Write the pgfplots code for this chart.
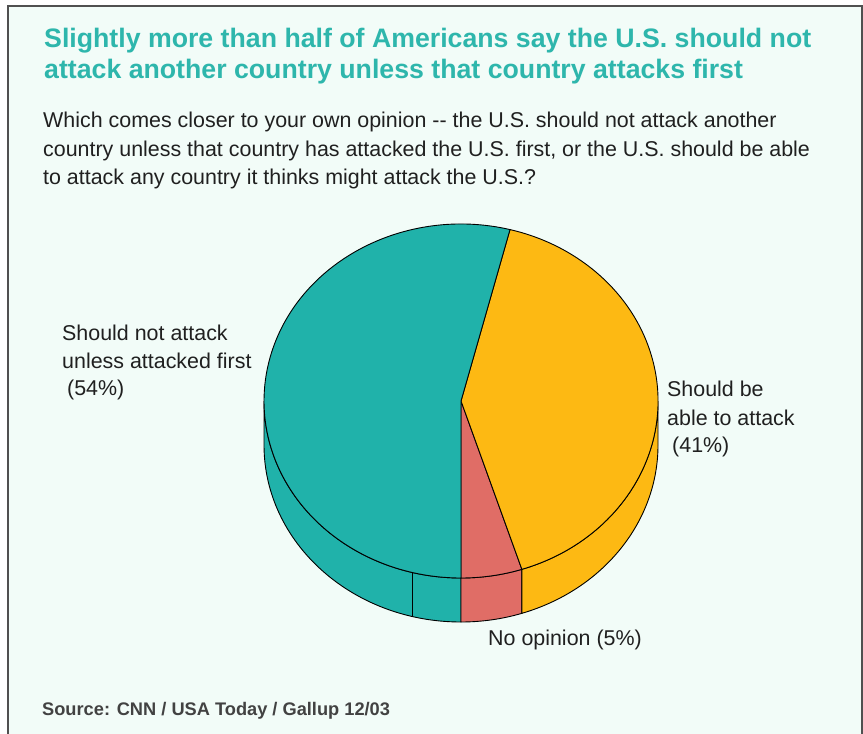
\documentclass[border=0pt]{standalone}
\usepackage{fontspec}
\setmainfont{Liberation Sans}
\newfontfamily\titlefont{Liberation Sans Bold}
\usepackage{pgfplots}
\usepackage{pgfplotstable}
\pgfplotsset{compat=1.18}

\definecolor{bg}{HTML}{F2FCF8}
\definecolor{frame}{HTML}{505050}
\definecolor{ttl}{HTML}{2EB6AC}
\definecolor{txt}{HTML}{202020}
\definecolor{teal}{HTML}{20B2AA}
\definecolor{gold}{HTML}{FDB913}
\definecolor{salmon}{HTML}{E06D66}

% slices counter-clockwise from the bottom
\pgfplotstableread{
label value
noopinion 5
able 41
notattack 54
}\piedata

\pgfplotstablegetelem{0}{value}\of\piedata \pgfmathsetmacro\vA{\pgfplotsretval}
\pgfplotstablegetelem{1}{value}\of\piedata \pgfmathsetmacro\vB{\pgfplotsretval}
\pgfplotstablegetelem{2}{value}\of\piedata \pgfmathsetmacro\vC{\pgfplotsretval}
\pgfmathsetmacro\aA{-90}
\pgfmathsetmacro\aB{\aA+3.6*\vA}
\pgfmathsetmacro\aC{\aB+3.6*\vB}
\pgfmathsetmacro\aD{\aC+3.6*\vC}
\pgfmathsetmacro\aBs{\aB+360}

% radii and depth of the pie (1 unit = 1 px of the reference)
\def\rx{197bp}
\def\ry{177bp}
\def\dep{44bp}

\newcommand\pieside[3]{%
  \filldraw[fill=#3, draw=black, line width=0.9bp]
    (axis cs:461,401) ++(#1:\rx\space and \ry)
    arc[start angle=#1, end angle=#2, x radius=\rx, y radius=\ry]
    -- ++(0,-\dep)
    arc[start angle=#2, end angle=#1, x radius=\rx, y radius=\ry] -- cycle;}
\newcommand\pietop[3]{%
  \filldraw[fill=#3, draw=black, line width=0.9bp]
    (axis cs:461,401) -- ++(#1:\rx\space and \ry)
    arc[start angle=#1, end angle=#2, x radius=\rx, y radius=\ry] -- cycle;}

\begin{document}
\begin{tikzpicture}
\begin{axis}[
    width=863bp, height=734bp,
    scale only axis,
    xmin=0, xmax=863, ymin=0, ymax=734,
    y dir=reverse,
    enlargelimits=false,
    hide axis,
    clip=false,
]
\coordinate (bl) at (axis cs:0,734);
\coordinate (tr) at (axis cs:863,0);
% canvas and frame
\fill[white] (axis cs:0,0) rectangle (axis cs:863,734);
\fill[bg] (axis cs:8,6) rectangle (axis cs:862,734);
\draw[frame, line width=2bp] (axis cs:8,734) -- (axis cs:8,6) -- (axis cs:862,6) -- (axis cs:862,734);

% side of the pie (front half)
\pieside{180}{270}{teal}
\pieside{270}{\aBs}{salmon}
\pieside{\aBs}{360}{gold}
\draw[black, line width=0.9bp] (axis cs:461,401) ++(255.6:\rx\space and \ry) -- ++(0,-\dep);

% top of the pie
\pietop{\aA}{\aB}{salmon}
\pietop{\aB}{\aC}{gold}
\pietop{\aC}{\aD}{teal}

% title
\node[anchor=base west, inner sep=0, text=ttl, font=\titlefont\fontsize{26.8}{30}\selectfont]
  at (axis cs:44,48) {Slightly more than half of Americans say the U.S. should not};
\node[anchor=base west, inner sep=0, text=ttl, font=\titlefont\fontsize{26.8}{30}\selectfont]
  at (axis cs:44,79) {attack another country unless that country attacks first};

% question
\node[anchor=base west, inner sep=0, text=txt, font=\fontsize{21.5}{24}\selectfont]
  at (axis cs:43,128) {Which comes closer to your own opinion -{}- the U.S. should not attack another};
\node[anchor=base west, inner sep=0, text=txt, font=\fontsize{21.5}{24}\selectfont]
  at (axis cs:43,156.5) {country unless that country has attacked the U.S. first, or the U.S. should be able};
\node[anchor=base west, inner sep=0, text=txt, font=\fontsize{21.5}{24}\selectfont]
  at (axis cs:43,185) {to attack any country it thinks might attack the U.S.?};

% slice labels
\node[anchor=base west, inner sep=0, text=txt, font=\fontsize{21.5}{24}\selectfont]
  at (axis cs:62,340) {Should not attack};
\node[anchor=base west, inner sep=0, text=txt, font=\fontsize{21.5}{24}\selectfont]
  at (axis cs:62,368) {unless attacked first};
\node[anchor=base west, inner sep=0, text=txt, font=\fontsize{21.5}{24}\selectfont]
  at (axis cs:67,395) {(54\%)};

\node[anchor=base west, inner sep=0, text=txt, font=\fontsize{21.5}{24}\selectfont]
  at (axis cs:667,396) {Should be};
\node[anchor=base west, inner sep=0, text=txt, font=\fontsize{21.5}{24}\selectfont]
  at (axis cs:667,425) {able to attack};
\node[anchor=base west, inner sep=0, text=txt, font=\fontsize{21.5}{24}\selectfont]
  at (axis cs:672,452) {(41\%)};

\node[anchor=base west, inner sep=0, text=txt, font=\fontsize{21.5}{24}\selectfont]
  at (axis cs:488,645) {No opinion (5\%)};

% source
\node[anchor=base west, inner sep=0, text=txt!85!white, font=\bfseries\fontsize{18.3}{22}\selectfont]
  at (axis cs:42,715) {Source: CNN / USA Today / Gallup 12/03};
\end{axis}
\pgfresetboundingbox
\path[use as bounding box] (bl) rectangle (tr);
\end{tikzpicture}
\end{document}
